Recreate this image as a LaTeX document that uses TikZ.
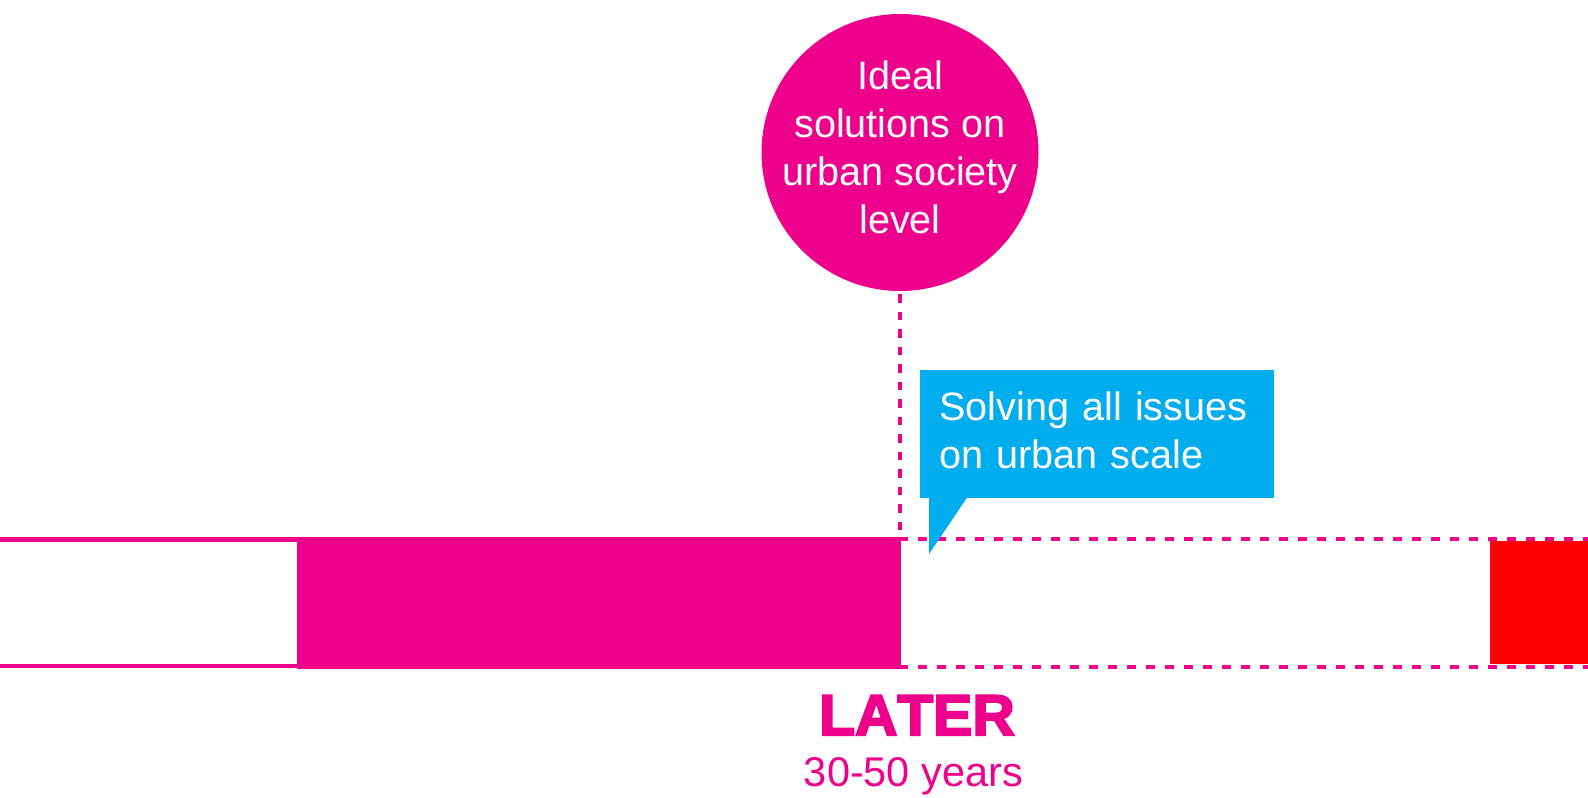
\documentclass[tikz,border=0pt]{standalone}
\usepackage{fontspec}
\setmainfont{Liberation Sans}
\newfontfamily\heavyfont[FakeBold=3.5,Kerning=Off]{Liberation Sans Bold}
\definecolor{mag}{HTML}{EC008C}
\definecolor{cyanb}{HTML}{00AEEF}
\definecolor{redb}{HTML}{FF0000}
\begin{document}
\begin{tikzpicture}[x=1pt,y=-1pt,
  bigtxt/.style={font=\fontsize{39.6}{48}\selectfont, text=white, inner sep=0pt},
  hdash/.style={draw=mag, line width=4pt, dash pattern=on 9pt off 10pt},
  vdash/.style={draw=mag, line width=4pt, dash pattern=on 8.5pt off 9pt},
  barfill/.style={fill=mag, inner sep=0pt, anchor=north west},
  endbox/.style={fill=redb, inner sep=0pt, anchor=north west},
  callbox/.style={bigtxt, fill=cyanb, anchor=north west, align=left, text width=316pt, inner xsep=19pt, inner ysep=21.3pt},
  bubble/.style={circle, fill=mag, minimum size=277pt, inner sep=0pt},
  title/.style={font=\fontsize{57.5}{60}\heavyfont, text=mag, anchor=base, inner sep=0pt},
  sub/.style={font=\fontsize{41.5}{48}\selectfont, text=mag, anchor=base, inner sep=0pt}]
\useasboundingbox (0,0) rectangle (1588,798);
% left outlined part of the bar
\draw[mag, line width=4.5pt] (-10,539.5) rectangle (899,666);
% filled part of the bar
\node[barfill, minimum width=602pt, minimum height=131.5pt] (now) at (297,537) {};
% red end box
\node[endbox, minimum width=110pt, minimum height=123pt] (end) at (1490,541) {};
% dashed continuation of the bar
\coordinate (topd) at ([yshift=-2pt]now.north east);
\coordinate (botd) at ([yshift=2pt]now.south east);
\draw[hdash] (topd) -- ++(720,0);
\draw[hdash] (botd) -- ++(720,0);
% bubble
\node[bubble] (circ) at (900,152.5) {};
\node[bigtxt, align=center] (circtext) at (circ.center) {Ideal\\solutions on\\urban society\\level\rule[-11.3pt]{0pt}{11.3pt}};
\draw[vdash] ([yshift=-3pt]circ.south) -- (circ.south |- topd);
% callout
\node[callbox] (call) at (920,370) {Solving all issues\\on urban scale\rule[-8pt]{0pt}{8pt}};
\coordinate (tip) at (929,554);
\fill[cyanb] ([xshift=9pt]call.south west) -- ([xshift=47pt]call.south west) -- (tip) -- cycle;
% labels
\node[title] (later) at (917,735) {\selectfont\scalebox{1.02}[1]{LATER}};
\node[sub] (years) at (913.5,786) {30-50 years};
\end{tikzpicture}
\end{document}
